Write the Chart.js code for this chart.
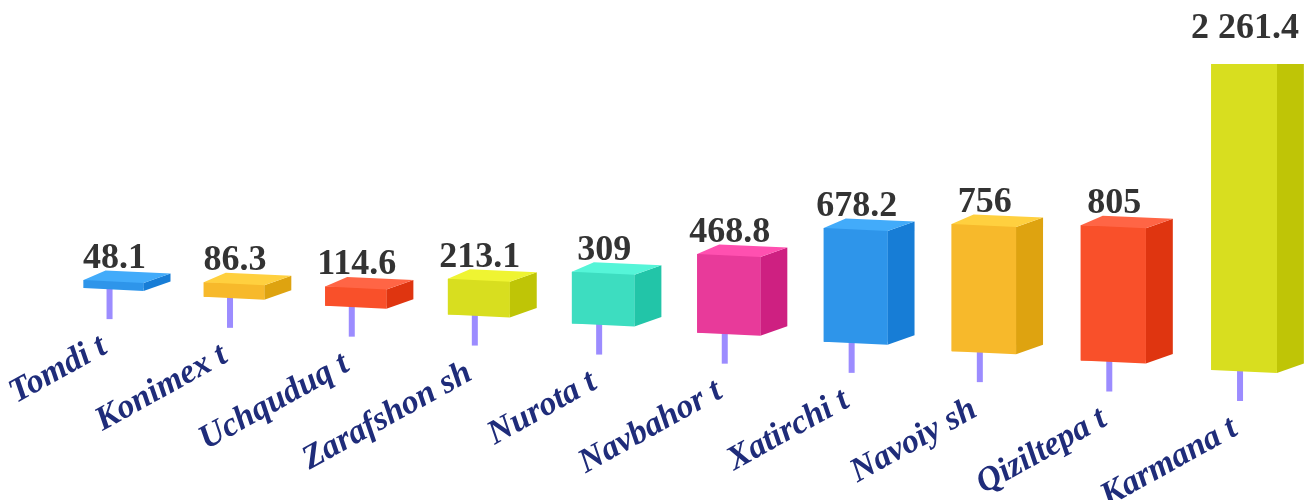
<!DOCTYPE html>
<html>
<head>
<meta charset="utf-8">
<style>
html,body{margin:0;padding:0;background:#fff;}
#wrap{width:1314px;height:500px;overflow:hidden;}
canvas{display:block;filter:blur(0.6px);}
</style>
<script src="https://cdn.jsdelivr.net/npm/chart.js@4/dist/chart.umd.min.js"></script>
</head>
<body>
<div id="wrap"><canvas id="c" width="1314" height="500"></canvas></div>
<script>
const categories = ["Tomdi t","Konimex t","Uchquduq t","Zarafshon sh","Nurota t","Navbahor t","Xatirchi t","Navoiy sh","Qiziltepa t","Karmana t"];
const values = [48.1,86.3,114.6,213.1,309,468.8,678.2,756,805,2261.4];
const axisMax = 1333;
const frontColors = ["#2E95EA","#F7B92B","#F9502A","#D8DE1F","#3DDDC0","#E83A9A","#2E95EA","#F7B92B","#F9502A","#D8DE1F"];
const sideColors  = ["#177DD6","#DEA310","#DF3510","#BFC506","#22C5A8","#CE2081","#177DD6","#DEA310","#DF3510","#BFC506"];
const topColors   = ["#42ABFA","#FFD03F","#FF6545","#EFF432","#55F5D8","#FF50B0","#42ABFA","#FFD03F","#FF6545","#EFF432"];

const fmt = v => String(v).replace(/\B(?=(\d{3})+(?!\d))/g, " ");

const view = {rake:0.0726, originX:82, bend:52, frontSlope:3, depthX:27, depthXBack:22, depthY:9.5,
              stemLen:31, stemW:6, stemShift:-4};

const perspective = {
  id:'perspective',
  afterDatasetsUpdate(chart){
    const meta = chart.getDatasetMeta(0);
    const x0 = meta.data[0].x, x1 = meta.data[meta.data.length-1].x;
    const warp = x => { const t=(x-x0)/(x1-x0); return x - view.bend*t*(1-t); };
    meta.data.forEach(el=>{
      const l = warp(el.x-el.width/2), r = warp(el.x+el.width/2);
      el.x=(l+r)/2; el.width=r-l;
      const lift = view.rake*(l-view.originX);
      el.y+=lift; el.base+=lift;
    });
  },
  beforeDatasetsDraw(chart){
    const ctx=chart.ctx, meta=chart.getDatasetMeta(0);
    ctx.save();
    ctx.fillStyle="#9C8CFF";
    meta.data.forEach(el=>{
      ctx.fillRect(el.x+view.stemShift-view.stemW/2, el.base, view.stemW, view.stemLen);
    });
    ctx.restore();
  },
  afterDatasetsDraw(chart){
    const ctx=chart.ctx, meta=chart.getDatasetMeta(0), area=chart.chartArea;
    const poly=(pts,c)=>{ctx.fillStyle=c;ctx.beginPath();pts.forEach((p,i)=>i?ctx.lineTo(p[0],p[1]):ctx.moveTo(p[0],p[1]));ctx.closePath();ctx.fill();};
    meta.data.forEach((el,i)=>{
      const l=el.x-el.width/2, r=el.x+el.width/2, yt=el.y, yb=el.base, s=view.frontSlope;
      ctx.save();
      ctx.beginPath();ctx.rect(0,area.top,chart.width,chart.height-area.top);ctx.clip();
      poly([[r,yt+s],[r+view.depthX,yt+s-view.depthY],[r+view.depthX,yb+s-view.depthY],[r,yb+s]],sideColors[i]);
      poly([[l,yt],[r,yt+s],[r,yb+s],[l,yb]],frontColors[i]);
      poly([[l,yt],[l+view.depthXBack,yt-view.depthY],[r+view.depthX,yt+s-view.depthY],[r,yt+s]],topColors[i]);
      ctx.restore();
    });
    // value labels
    ctx.save();
    ctx.font='bold 36px "Liberation Serif"';
    ctx.fillStyle="#333";
    ctx.textAlign="center";ctx.textBaseline="alphabetic";
    meta.data.forEach((el,i)=>{
      ctx.fillText(fmt(values[i]), el.x+1, Math.max(el.y-12,38));
    });
    ctx.restore();
    // category labels
    ctx.save();
    ctx.font='italic bold 34px "Liberation Serif"';
    ctx.fillStyle="#1F2C7A";
    ctx.textAlign="right";ctx.textBaseline="alphabetic";
    meta.data.forEach((el,i)=>{
      const sx=el.x+view.stemShift, sb=el.base+view.stemLen;
      ctx.save();
      ctx.translate(sx-1,sb+33);
      ctx.rotate(-29*Math.PI/180);
      ctx.fillText(chart.scales.x.getLabelForValue(i),0,0);
      ctx.restore();
    });
    ctx.restore();
  }
};

new Chart(document.getElementById('c'),{
  type:'bar',
  data:{labels:categories,datasets:[{
    data:values,
    backgroundColor:frontColors,
    borderWidth:0,
    barPercentage:0.5,
    categoryPercentage:1,
    clip:{left:false,right:false,bottom:false,top:0}
  }]},
  options:{
    responsive:false,animation:false,
    layout:{padding:{left:50.7,right:7.2,top:64,bottom:212}},
    plugins:{legend:{display:false},title:{display:false},tooltip:{enabled:false}},
    scales:{
      x:{type:'category',display:false,grid:{display:false},border:{display:false},ticks:{display:false}},
      y:{min:0,max:axisMax,display:false}
    }
  },
  plugins:[perspective]
});
</script>
</body>
</html>
